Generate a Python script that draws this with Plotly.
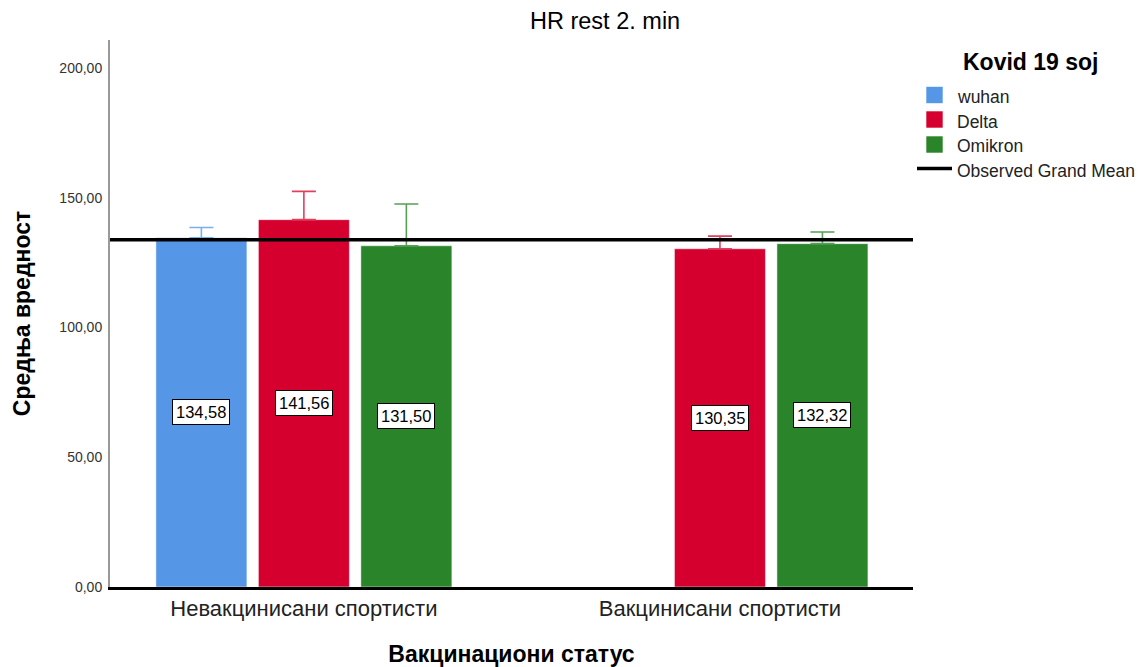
import plotly.graph_objects as go

# ---- data ----
categories = ["Невакцинисани спортисти", "Вакцинисани спортисти"]
series_names = ["wuhan", "Delta", "Omikron"]
wuhan_vals = [134.58, None]
delta_vals = [141.56, 130.35]
omikron_vals = [131.50, 132.32]
wuhan_err = [3.96, None]
delta_err = [10.9, 4.85]
omikron_err = [16.1, 4.5]
grand_mean = 133.8
y_tickvals = [0, 50, 100, 150, 200]
y_ticktext = ["0,00", "50,00", "100,00", "150,00", "200,00"]

colors = ["#5596E6", "#D6002F", "#2A842A"]
err_colors = ["#7AAEEC", "#E0405E", "#55A055"]

FONT = "Arial, 'Liberation Sans', sans-serif"

values = [wuhan_vals, delta_vals, omikron_vals]
errors = [wuhan_err, delta_err, omikron_err]

BARGAP = 0.261
GROUPGAP = 0.112
n_series = len(series_names)
slot = (1 - BARGAP) / n_series

# page body has an 8px default margin: compensate so the plot lands where intended
OFF = 8
WIN_W, WIN_H = 1147, 667
W, H = WIN_W - OFF, WIN_H - OFF
# plot area in window pixel coords
PL, PR, PT, PB = 110, 913, 40, 587
ML, MR, MT, MB = PL - OFF, W - (PR - OFF), PT - OFF, H - (PB - OFF)
PW, PH = PR - PL, PB - PT

def px(xw):
    return (xw - PL) / PW

def py(yw):
    return 1 - (yw - PT) / PH

fig = go.Figure()
for i, name in enumerate(series_names):
    fig.add_trace(go.Bar(
        x=categories, y=values[i], name=name,
        marker=dict(color=colors[i], line=dict(color="rgba(255,255,255,0.5)", width=1)),
        error_y=dict(type="data", array=[e if e is not None else 0 for e in errors[i]],
                     arrayminus=[0, 0], symmetric=False,
                     color=err_colors[i], thickness=1.6, width=12),
        showlegend=False,
    ))

annotations = []
for i in range(n_series):
    for j, v in enumerate(values[i]):
        if v is None:
            continue
        xpos = j + (i - (n_series - 1) / 2) * slot
        annotations.append(dict(
            x=xpos, y=v / 2, xref="x", yref="y",
            text=f"{v:.2f}".replace(".", ","), showarrow=False,
            font=dict(family=FONT, size=16.5, color="black"),
            bgcolor="white", bordercolor="black", borderwidth=1, borderpad=3,
        ))

shapes = [
    dict(type="line", xref="paper", yref="y", x0=0, x1=1, y0=grand_mean, y1=grand_mean,
         line=dict(color="black", width=3.5), layer="above"),
]

legend_items = series_names + ["Observed Grand Mean"]
legend_y = [95, 119.5, 144.5, 168.5]
for k, label in enumerate(legend_items):
    yc = legend_y[k]
    if k < n_series:
        shapes.append(dict(type="rect", xref="paper", yref="paper",
                           x0=px(926), x1=px(943), y0=py(yc + 8.5), y1=py(yc - 8.5),
                           fillcolor=colors[k], line=dict(color="rgba(255,255,255,0.6)", width=1)))
    else:
        shapes.append(dict(type="line", xref="paper", yref="paper",
                           x0=px(917), x1=px(952), y0=py(yc), y1=py(yc),
                           line=dict(color="black", width=3.5)))
    annotations.append(dict(x=px(955), y=py(yc + 2), xref="paper", yref="paper",
                            text=label, showarrow=False, xanchor="left", yanchor="middle",
                            font=dict(family=FONT, size=17.5, color="#222")))

annotations.append(dict(x=px(1031), y=py(62), xref="paper", yref="paper",
                        text="<b>Kovid 19 soj</b>", showarrow=False,
                        xanchor="center", yanchor="middle",
                        font=dict(family=FONT, size=23, color="black")))
annotations.append(dict(x=px(605), y=py(21), xref="paper", yref="paper",
                        text="HR rest 2. min", showarrow=False,
                        xanchor="center", yanchor="middle",
                        font=dict(family=FONT, size=23.5, color="black")))

fig.update_layout(
    width=W, height=H,
    margin=dict(l=ML, r=MR, t=MT, b=MB, autoexpand=False),
    plot_bgcolor="white", paper_bgcolor="white",
    barmode="group", bargap=BARGAP, bargroupgap=GROUPGAP,
    showlegend=False,
    shapes=shapes, annotations=annotations,
    font=dict(family=FONT),
)
fig.update_xaxes(
    range=[-0.466, 1.464], showgrid=False, zeroline=False,
    showline=True, linecolor="black", linewidth=3,
    ticks="", tickfont=dict(family=FONT, size=22, color="#222"),
    title=dict(text="<b>Вакцинациони статус</b>", font=dict(family=FONT, size=23, color="black"), standoff=26),
)
fig.update_yaxes(
    range=[0, 210.8], showgrid=False, zeroline=False,
    showline=True, linecolor="#999999", linewidth=2,
    tickvals=y_tickvals, ticktext=y_ticktext,
    ticks="outside", ticklen=3, tickcolor="rgba(0,0,0,0)",
    tickfont=dict(family=FONT, size=14, color="#333"),
    title=dict(text="<b>Средња вредност</b>", font=dict(family=FONT, size=23, color="black"), standoff=22),
)

fig.write_html("out.html")
